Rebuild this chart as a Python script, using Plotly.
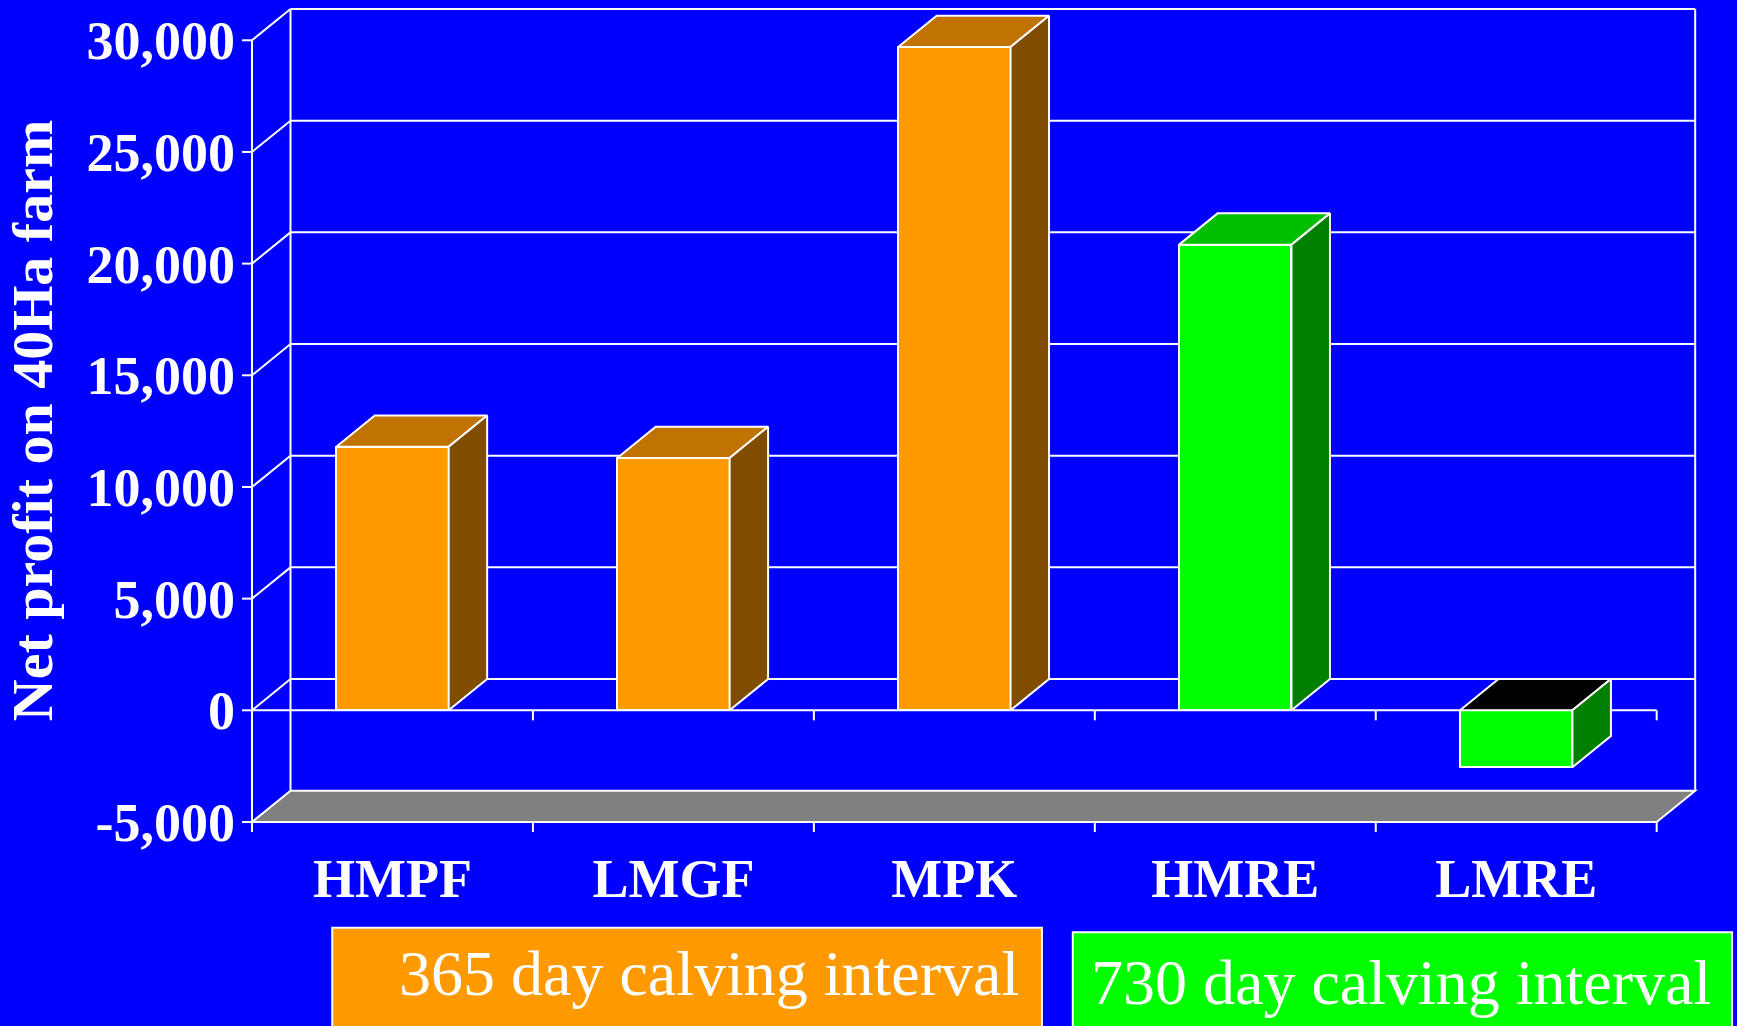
import plotly.graph_objects as go

# ---------------- data ----------------
categories = ["HMPF", "LMGF", "MPK", "HMRE", "LMRE"]
net_profit = [11800, 11300, 29700, 20850, -2550]
calving_group = ["365", "365", "365", "730", "730"]

y_tickvals = [-5000, 0, 5000, 10000, 15000, 20000, 25000, 30000]
y_ticktext = ["-5,000", "0", "5,000", "10,000", "15,000", "20,000", "25,000", "30,000"]

legend_labels = {"365": "365 day calving interval", "730": "730 day calving interval"}
y_title = "Net profit on 40Ha farm"

# ---------------- styling ----------------
BG = "#0000FF"
WHITE = "#FFFFFF"
FACE = {"365": "#FF9900", "730": "#00FF00"}
TOP = {"365": "#C07300", "730": "#00BF00"}
SIDE = {"365": "#7F4C00", "730": "#007F00"}
NEG_TOP = "#000000"
FLOOR = "#808080"
SERIF = "Liberation Serif, Times New Roman, serif"

DX = 0.137      # depth offset in category units
DY = 1400       # depth offset in value units
HALF = 0.2      # half bar width
TICK_Y = 450    # tick length in value units (~10px)
TICK_X = 0.0356 # y tick length in category units (~10px)

n = len(categories)
xs = list(range(n))
x_left, x_right = -0.5, n - 0.5
y_min, y_max = y_tickvals[0], y_tickvals[-1]

fig = go.Figure()

# ---------------- walls / grid as shapes below traces ----------------
shapes = []
line = dict(color=WHITE, width=2)

# floor
floor_path = (f"M {x_left},{y_min} L {x_right},{y_min} L {x_right+DX},{y_min+DY} "
              f"L {x_left+DX},{y_min+DY} Z")
shapes.append(dict(type="path", path=floor_path, xref="x", yref="y",
                   fillcolor=FLOOR, line=line, layer="below"))

# gridlines on left wall and back wall
for v in y_tickvals[1:]:
    shapes.append(dict(type="line", xref="x", yref="y", x0=x_left, y0=v,
                       x1=x_left + DX, y1=v + DY, line=line, layer="below"))
    shapes.append(dict(type="line", xref="x", yref="y", x0=x_left + DX, y0=v + DY,
                       x1=x_right + DX, y1=v + DY, line=line, layer="below"))
# back verticals
for xv in (x_left + DX, x_right + DX):
    shapes.append(dict(type="line", xref="x", yref="y", x0=xv, y0=y_min + DY,
                       x1=xv, y1=y_max + DY, line=line, layer="below"))
# front left axis line
shapes.append(dict(type="line", xref="x", yref="y", x0=x_left, y0=y_min - TICK_Y,
                   x1=x_left, y1=y_max, line=line, layer="below"))
# y tick marks
for v in y_tickvals:
    shapes.append(dict(type="line", xref="x", yref="y", x0=x_left - TICK_X, y0=v,
                       x1=x_left, y1=v, line=line, layer="below"))
# front zero line with ticks, floor ticks
shapes.append(dict(type="line", xref="x", yref="y", x0=x_left, y0=0,
                   x1=x_right, y1=0, line=line, layer="below"))
for k in range(n):
    b = k + 0.5
    for base in (0, y_min):
        shapes.append(dict(type="line", xref="x", yref="y", x0=b, y0=base,
                           x1=b, y1=base - TICK_Y, line=line, layer="below"))

# ---------------- bars: front faces ----------------
fig.add_trace(go.Bar(
    x=xs, y=net_profit, base=0, width=2 * HALF,
    marker=dict(color=[FACE[g] for g in calving_group],
                line=dict(color=WHITE, width=2)),
    showlegend=False, hoverinfo="skip"))

# ---------------- bars: top and side faces ----------------
for x, v, g in zip(xs, net_profit, calving_group):
    x0, x1 = x - HALF, x + HALF
    top = max(v, 0)
    bot = min(v, 0)
    # top face
    fig.add_trace(go.Scatter(
        x=[x0, x0 + DX, x1 + DX, x1, x0],
        y=[top, top + DY, top + DY, top, top],
        mode="lines", fill="toself",
        fillcolor=TOP[g] if v >= 0 else NEG_TOP,
        line=dict(color=WHITE, width=2), showlegend=False, hoverinfo="skip"))
    # side face
    fig.add_trace(go.Scatter(
        x=[x1, x1 + DX, x1 + DX, x1, x1],
        y=[bot, bot + DY, top + DY, top, bot],
        mode="lines", fill="toself", fillcolor=SIDE[g],
        line=dict(color=WHITE, width=2), showlegend=False, hoverinfo="skip"))

# ---------------- legend boxes ----------------
shapes.append(dict(type="rect", xref="paper", yref="paper", x0=0.0620, x1=0.5494,
                   y0=-0.26, y1=-0.1135, fillcolor=FACE["365"],
                   line=dict(color=WHITE, width=2), layer="above"))
shapes.append(dict(type="rect", xref="paper", yref="paper", x0=0.5706, x1=1.0234,
                   y0=-0.26, y1=-0.1187, fillcolor=FACE["730"],
                   line=dict(color=WHITE, width=2), layer="above"))

annotations = [
    dict(text=legend_labels["365"], xref="paper", yref="paper", x=0.3204, y=-0.1683,
         xanchor="center", yanchor="middle", showarrow=False,
         font=dict(family=SERIF, size=64, color=WHITE)),
    dict(text=legend_labels["730"], xref="paper", yref="paper", x=0.7957, y=-0.1792,
         xanchor="center", yanchor="middle", showarrow=False,
         font=dict(family=SERIF, size=64, color=WHITE)),
]

fig.update_layout(
    width=1737, height=1026,
    paper_bgcolor=BG, plot_bgcolor=BG,
    margin=dict(l=241.7, r=38.5, t=6.6, b=192.2, autoexpand=False),
    shapes=shapes, annotations=annotations,
    bargap=0, showlegend=False,
    xaxis=dict(range=[x_left - TICK_X, x_right + DX + 0.01],
               tickvals=xs, ticktext=categories, ticks="",
               showgrid=False, zeroline=False, showline=False,
               tickfont=dict(family=SERIF, size=54, color=WHITE),
               ticklabelstandoff=8, automargin=False),
    yaxis=dict(range=[y_min - 538, y_max + DY + 90],
               tickvals=y_tickvals, ticktext=y_ticktext, ticks="",
               showgrid=False, zeroline=False, showline=False,
               tickfont=dict(family=SERIF, size=54, color=WHITE),
               ticklabelstandoff=6, automargin=False,
               title=dict(text=y_title, standoff=16,
                          font=dict(family=SERIF, size=58, color=WHITE))),
)
# bold text
fig.update_xaxes(tickfont_weight="bold")
fig.update_yaxes(tickfont_weight="bold", title_font_weight="bold")

fig.write_html("out.html")
